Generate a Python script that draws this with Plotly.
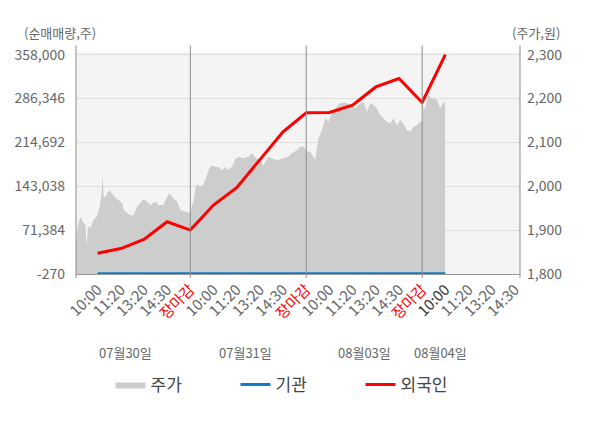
import plotly.graph_objects as go

# x positions are in tick steps: 5 steps per trading day (10:00, 11:20, 13:20, 14:30, close)
day1_t = [0.07, 0.17, 0.26, 0.39, 0.47, 0.53, 0.60, 0.69, 0.83, 0.98, 1.09, 1.16, 1.22, 1.26,
          1.34, 1.41, 1.52, 1.62, 1.77, 1.91, 2.06, 2.13, 2.27, 2.41, 2.56, 2.70, 2.84, 2.99,
          3.13, 3.28, 3.49, 3.63, 3.84, 4.00, 4.11, 4.28, 4.43, 4.57, 4.74, 4.93, 5.00]
day1_price = [1880, 1914, 1930, 1916, 1914, 1866, 1909, 1905, 1923, 1932, 1953, 1976, 2025, 1980,
              1973, 1984, 1991, 1984, 1973, 1968, 1962, 1946, 1941, 1934, 1934, 1953, 1962, 1971,
              1965, 1957, 1965, 1957, 1957, 1976, 1984, 1972, 1965, 1946, 1943, 1940, 1939]

day2_t = [5.07, 5.13, 5.22, 5.30, 5.43, 5.56, 5.72, 5.82, 5.94, 6.08, 6.21, 6.37, 6.51, 6.64,
          6.80, 6.94, 7.07, 7.28, 7.50, 7.66, 7.80, 7.93, 8.06, 8.15, 8.26, 8.36, 8.58, 8.79,
          9.01, 9.22, 9.38, 9.60, 9.74, 9.88, 10.00]
day2_price = [1957, 1962, 1996, 2005, 2000, 2003, 2025, 2041, 2048, 2044, 2044, 2037, 2044, 2037,
              2044, 2062, 2067, 2064, 2067, 2075, 2066, 2060, 2055, 2048, 2060, 2067, 2062, 2060,
              2064, 2067, 2075, 2082, 2090, 2090, 2082]

day3_t = [10.03, 10.17, 10.31, 10.39, 10.46, 10.53, 10.68, 10.82, 10.96, 11.11, 11.32, 11.47,
          11.68, 11.90, 12.11, 12.33, 12.47, 12.62, 12.76, 12.90, 13.05, 13.19, 13.33, 13.48,
          13.62, 13.76, 13.91, 14.05, 14.19, 14.34, 14.48, 14.63, 14.77, 14.91, 15.00]
day3_price = [2079, 2079, 2067, 2060, 2086, 2109, 2128, 2155, 2147, 2166, 2181, 2189,
              2191, 2185, 2177, 2189, 2192, 2170, 2189, 2185, 2177, 2162, 2155, 2147,
              2143, 2155, 2139, 2151, 2143, 2128, 2124, 2135, 2139, 2147, 2147]

day4_t = [15.06, 15.13, 15.27, 15.42, 15.52, 15.63, 15.78, 15.89, 15.99]
day4_price = [2181, 2177, 2208, 2200, 2199, 2198, 2177, 2189, 2192]

flow_t = [1, 2, 3, 4, 5, 6, 7, 8, 9, 10, 11, 12, 13, 14, 15, 16]
foreign = [33500, 41300, 56300, 85000, 71500, 112300, 140900, 185700, 231900, 263200,
           263500, 275400, 305300, 319000, 279900, 358000]
institution = [0, 0, 0, -270, 0, 0, 0, 0, 0, 0, 0, 0, 0, 0, 0, 0]

tick_labels = ["10:00", "11:20", "13:20", "14:30", "장마감",
               "10:00", "11:20", "13:20", "14:30", "장마감",
               "10:00", "11:20", "13:20", "14:30", "장마감",
               "10:00", "11:20", "13:20", "14:30"]
day_labels = ["07월30일", "07월31일", "08월03일", "08월04일"]

left_ticks = [-270, 71384, 143038, 214692, 286346, 358000]
right_ticks = [1800, 1900, 2000, 2100, 2200, 2300]

FONT = "Noto Sans CJK KR"
GRAY = "#666666"

price_t = day1_t + day2_t + day3_t + day4_t
price = day1_price + day2_price + day3_price + day4_price

ticktext = []
for i, lab in enumerate(tick_labels):
    if lab == "장마감":
        ticktext.append("<span style='color:#ff0000'>%s</span>" % lab)
    elif i == 15:
        ticktext.append("<span style='color:#333333'>%s</span>" % lab)
    else:
        ticktext.append(lab)

fig = go.Figure()

fig.add_trace(go.Scatter(
    x=price_t, y=price, name="주가", yaxis="y",
    mode="lines", fill="tozeroy",
    fillcolor="#cdcdcd", line=dict(width=0, color="#cdcdcd"),
))
fig.add_trace(go.Scatter(
    x=flow_t, y=institution, name="기관", yaxis="y2",
    mode="lines", line=dict(width=3, color="#127cc6"),
))
fig.add_trace(go.Scatter(
    x=flow_t, y=foreign, name="외국인", yaxis="y2",
    mode="lines", line=dict(width=3, color="#ff0000"),
))

# day separators plus the plot's left/right edges
for xv in [5, 10, 15]:
    fig.add_shape(type="line", xref="x", yref="paper", x0=xv, x1=xv, y0=-0.018, y1=1.03,
                  line=dict(color="#8c8c8c", width=1))
for xv in [0, 1]:
    fig.add_shape(type="line", xref="paper", yref="paper", x0=xv, x1=xv, y0=-0.018, y1=1.03,
                  line=dict(color="#8c8c8c", width=1))

for i, lab in enumerate(day_labels):
    fig.add_annotation(x=[2.2, 7.4, 12.5, 15.8][i], y=-0.355, xref="x", yref="paper",
                       yanchor="middle", text=lab, showarrow=False,
                       font=dict(size=13, color=GRAY, family=FONT))

fig.add_annotation(x=-0.122, y=1.088, xref="paper", yref="paper", xanchor="left", yanchor="middle",
                   text="(순매매량,주)", showarrow=False, font=dict(size=13, color=GRAY, family=FONT))
fig.add_annotation(x=1.095, y=1.088, xref="paper", yref="paper", xanchor="right", yanchor="middle",
                   text="(주가,원)", showarrow=False, font=dict(size=13, color=GRAY, family=FONT))

fig.update_layout(
    width=600, height=428,
    margin=dict(l=76, r=80, t=52, b=154, autoexpand=False),
    paper_bgcolor="white",
    plot_bgcolor="#f4f4f4",
    font=dict(family=FONT, color=GRAY, size=14),
    xaxis=dict(
        range=[0.07, 19.22], tickmode="array",
        tickvals=list(range(1, 20)), ticktext=ticktext,
        tickangle=-45, tickfont=dict(size=15, color=GRAY),
        showgrid=False, zeroline=False, automargin=False,
        showline=True, linecolor="#999999", linewidth=1,
    ),
    yaxis=dict(
        side="right", range=[1800, 2306], tickmode="array",
        tickvals=right_ticks, ticktext=["{:,}".format(v) for v in right_ticks],
        showgrid=True, gridcolor="#dedede", zeroline=False, automargin=False,
        tickfont=dict(size=14, color=GRAY), ticklabelstandoff=6,
    ),
    yaxis2=dict(
        side="left", overlaying="y", range=[-270, 362400], tickmode="array",
        tickvals=left_ticks, ticktext=["{:,}".format(v) for v in left_ticks],
        showgrid=False, zeroline=False, automargin=False,
        tickfont=dict(size=14, color=GRAY), ticklabelstandoff=10,
    ),
    legend=dict(
        orientation="h", x=0.5, xanchor="center", y=-0.5, yanchor="middle",
        font=dict(size=17, color="#444444", family=FONT),
        entrywidth=80, entrywidthmode="pixels",
    ),
)

fig.write_html("out.html", config={"displayModeBar": False},
               post_script="document.body.style.margin='0';")
